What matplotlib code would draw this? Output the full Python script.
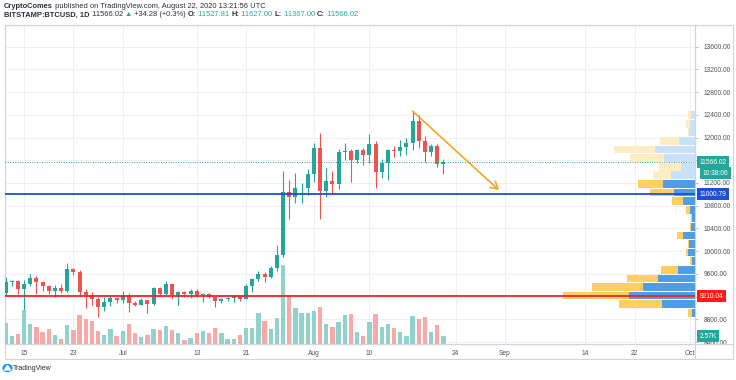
import numpy as np
import pandas as pd
import matplotlib
matplotlib.use("Agg")
import matplotlib.pyplot as plt
import matplotlib.dates as mdates
import matplotlib.transforms as mtransforms
from matplotlib.patches import Rectangle, Ellipse, Polygon
from matplotlib.lines import Line2D
from matplotlib.offsetbox import TextArea, HPacker, AnnotationBbox

# ---- data (BITSTAMP:BTCUSD, 1D, Jun 12 - Aug 22 2020) ----
dates = pd.date_range("2020-06-12", "2020-08-22", freq="D")

opens = [9265, 9460, 9475, 9330, 9430, 9525, 9465, 9385, 9300, 9355,
         9290, 9685, 9625, 9285, 9235, 9160, 9010, 9110, 9180, 9135,
         9235, 9095, 9060, 9135, 9070, 9345, 9250, 9430, 9235, 9285,
         9240, 9300, 9235, 9250, 9195, 9130, 9155, 9170, 9210, 9160,
         9385, 9515, 9605, 9550, 9700, 9930, 11045, 10945, 11105, 11120,
         11350, 11810, 11060, 11230, 11180, 11750, 11765, 11600, 11780, 11690,
         11885, 11395, 11560, 11785, 11770, 11840, 11905, 12295, 11945, 11750,
         11860, 11527.81]
highs = [9540, 9490, 9490, 9500, 9590, 9560, 9480, 9400, 9400, 9420,
         9790, 9700, 9660, 9330, 9280, 9190, 9190, 9230, 9200, 9290,
         9260, 9120, 9180, 9145, 9360, 9370, 9470, 9440, 9300, 9300,
         9330, 9340, 9270, 9270, 9210, 9180, 9200, 9230, 9220, 9420,
         9530, 9650, 9640, 9730, 10100, 11410, 11250, 11370, 11200, 11450,
         11900, 12085, 11470, 11420, 11800, 11900, 11800, 11800, 11810, 12070,
         11935, 11620, 11800, 11850, 11960, 11990, 12470, 12400, 12020, 11880,
         11880, 11627.00]
lows = [9230, 9390, 9250, 8960, 9380, 9250, 9290, 9240, 9200, 9270,
        9280, 9580, 9210, 9000, 9050, 8840, 8950, 9030, 9080, 9080,
        8930, 9040, 9050, 8910, 9050, 9210, 9230, 9150, 9050, 9190,
        9180, 9200, 9100, 9170, 9010, 9090, 9130, 9100, 9130, 9150,
        9280, 9480, 9450, 9530, 9650, 9900, 10570, 10840, 10840, 10990,
        11220, 10560, 10950, 11000, 11090, 11600, 11210, 11550, 11520, 11550,
        11120, 11290, 11250, 11650, 11670, 11700, 11780, 11810, 11570, 11680,
        11490, 11367.00]
closes = [9460, 9475, 9330, 9430, 9525, 9465, 9385, 9300, 9355, 9290,
          9685, 9625, 9285, 9235, 9160, 9010, 9110, 9180, 9135, 9235,
          9095, 9060, 9135, 9070, 9345, 9250, 9430, 9235, 9285, 9240,
          9300, 9235, 9250, 9195, 9130, 9155, 9170, 9210, 9160, 9385,
          9515, 9605, 9550, 9700, 9930, 11045, 10945, 11105, 11120, 11350,
          11810, 11060, 11230, 11180, 11750, 11765, 11600, 11780, 11690, 11885,
          11395, 11560, 11785, 11770, 11840, 11905, 12295, 11945, 11750, 11860,
          11530, 11566.02]
# volume in thousands of BTC
volumes = [6.9, 2.8, 3.3, 11.4, 6.7, 5.7, 3.9, 5.1, 3.0, 1.6,
           6.4, 4.8, 9.8, 8.5, 7.8, 4.4, 3.1, 5.0, 2.8, 4.2,
           6.7, 3.6, 2.2, 3.0, 5.1, 4.7, 6.0, 4.7, 3.8, 1.4,
           2.0, 3.8, 4.4, 3.8, 5.3, 3.6, 1.6, 1.6, 3.1, 5.3,
           5.3, 10.3, 7.8, 5.0, 8.8, 26.5, 16.5, 12.0, 10.3, 10.3,
           10.9, 12.4, 6.8, 5.6, 7.4, 9.7, 10.1, 3.9, 2.8, 7.4,
           10.1, 5.7, 6.7, 5.3, 3.9, 2.6, 9.5, 8.5, 9.1, 4.1,
           6.2, 2.57]

# visible range volume profile, 24 rows from the low to the high (bottom -> top)
profile_up = [3.0, 33.0, 65.7, 51.7, 36.7, 17.3, 3.0, 6.7, 5.7, 11.7, 4.0, 3.0,
              5.0, 11.7, 20.7, 31.7, 24.0, 14.0, 30.7, 39.7, 16.3, 5.7, 5.0, 4.0]
profile_down = [3.7, 42.7, 66.7, 51.7, 31.7, 16.3, 2.0, 2.3, 1.7, 6.7, 1.0, 0.7,
                4.0, 11.7, 24.3, 25.0, 18.3, 21.7, 34.0, 41.3, 18.7, 1.0, 4.0, 3.3]
value_area_rows = 16

support_level = 9210.04
resist_level = 11000.79
last_price = 11566.02
arrow_start = ("2020-08-17", 12466)
arrow_end = ("2020-08-31", 11075)

tick_dates = ["2020-06-15", "2020-06-23", "2020-07-01", "2020-07-13", "2020-07-21",
              "2020-08-01", "2020-08-10", "2020-08-24", "2020-09-01", "2020-09-14",
              "2020-09-22", "2020-10-01"]
tick_labels = ["15", "23", "Jul", "13", "21", "Aug", "10", "24", "Sep", "14", "22", "Oct"]
price_ticks = np.arange(8400, 13601, 400)
hidden_ticks = [9200, 11600]   # covered by the price tags

UP = "#26a69a"
DOWN = "#ef5350"
TXT = "#2a2e39"
FONT = ["Liberation Sans", "DejaVu Sans"]

# ---- figure layout (pixel based) ----
W, H = 736, 380
fig = plt.figure(figsize=(W / 100, H / 100), dpi=100)


def rect(x0, y0, x1, y1):
    return [x0 / W, 1 - y1 / H, (x1 - x0) / W, (y1 - y0) / H]


r = rect(5, 25, 695, 344)
ax = fig.add_axes(r)
ax_vol = fig.add_axes(r, sharex=ax)
ax_prof = fig.add_axes(r, sharey=ax)
ax_top = fig.add_axes(r, sharex=ax, sharey=ax)
for i, a in enumerate([ax, ax_vol, ax_prof, ax_top]):
    a.set_zorder(i)
    if i:
        a.patch.set_visible(False)
        a.axis("off")

x = mdates.date2num(dates)
o = np.array(opens); h = np.array(highs); l = np.array(lows); c = np.array(closes)
up = c >= o

ax.set_xlim(x[0] - 0.1, mdates.datestr2num("2020-10-01") + 0.8)
ax.set_ylim(8365, 13982)

# grid / ticks
ax.set_xticks(mdates.datestr2num(tick_dates))
ax.set_xticklabels(tick_labels, fontsize=4.8, color="#50535e", family=FONT)
ax.set_yticks(price_ticks)
ax.set_yticklabels(["" if p in hidden_ticks else f"{p:.2f}" for p in price_ticks],
                   fontsize=4.8, color="#50535e", family=FONT)
ax.yaxis.tick_right()
ax.tick_params(axis="x", length=0, pad=4)
ax.tick_params(axis="y", length=2.5, width=0.6, color="#b2b5be", pad=4)
ax.grid(True, color="#eef0f4", lw=0.7)
for s in ax.spines.values():
    s.set_color("#d1d4dc")
    s.set_linewidth(0.8)

# volume
vol_colors = np.where(up, "#92d2cc", "#f7a9a7")
ax_vol.bar(x, volumes, width=0.7, color=vol_colors)
ax_vol.set_ylim(0, 106.7)

# volume profile
edges = np.linspace(l.min(), h.max(), 25)
row_h = edges[1] - edges[0]
centers = edges[:-1] + row_h / 2
pu = np.array(profile_up); pd_ = np.array(profile_down)
in_va = np.arange(24) < value_area_rows
ax_prof.barh(centers, pu, height=row_h * 0.9, left=0,
             color=np.where(in_va, "#4f9de5", "#c8e1f7"))
ax_prof.barh(centers, pd_, height=row_h * 0.9, left=pu,
             color=np.where(in_va, "#fccf5f", "#fdecc4"))
ax_prof.set_xlim(690, 0)

# candles
ax_top.vlines(x, l, h, colors=np.where(up, UP, DOWN), lw=0.8)
body = np.maximum(np.abs(c - o), 8)
ax_top.bar(x, body, bottom=np.minimum(o, c), width=0.65, color=np.where(up, UP, DOWN))

# levels
ax_top.axhline(resist_level, color="#1e50d2", lw=1.3)
ax_top.axhline(support_level, color="#e8262a", lw=1.3)
ax_top.axhline(last_price, color=UP, lw=0.7, ls=(0, (1, 1.5)))

# arrow
ax_top.annotate("", xy=(mdates.datestr2num(arrow_end[0]), arrow_end[1]),
                xytext=(mdates.datestr2num(arrow_start[0]), arrow_start[1]),
                arrowprops=dict(arrowstyle="->,head_length=0.5,head_width=0.3",
                                color="#f5a623", lw=1.2, shrinkA=0, shrinkB=0))

# price axis tags
blend = mtransforms.blended_transform_factory(ax_top.transAxes, ax_top.transData)


def tag(y, text, color, dx=3.3, dy=0, trans=blend):
    ax_top.annotate(text, xy=(1.0, y), xycoords=trans, xytext=(dx, dy),
                    textcoords="offset points", fontsize=4.8, color="white",
                    family=FONT, va="center", ha="left", annotation_clip=False,
                    bbox=dict(boxstyle="square,pad=0.35", fc=color, ec="none"))


tag(last_price, f"{last_price:.2f}", UP)
tag(last_price, "10:38:06", UP, dx=5.5, dy=-8)
tag(resist_level, f"{resist_level:.2f}", "#1e50d2")
tag(support_level, f"{support_level:.2f}", "#ff1a1a")
tag(volumes[-1], f"{volumes[-1]:.2f}K",
    UP, trans=mtransforms.blended_transform_factory(ax_vol.transAxes, ax_vol.transData))

# outer frame
fig.add_artist(Rectangle((5 / W, 1 - 359 / H), 728 / W, 334 / H, transform=fig.transFigure,
                         fill=False, ec="#d1d4dc", lw=0.8))
fig.add_artist(Line2D([695 / W, 695 / W], [1 - 359 / H, 1 - 25 / H], color="#d1d4dc", lw=0.8))
fig.add_artist(Line2D([5 / W, 733 / W], [1 - 344 / H, 1 - 344 / H], color="#d1d4dc", lw=0.8))


# header
def header(parts, y_px):
    boxes = [TextArea(t, textprops=dict(color=col, fontweight=wt, fontsize=5.4, family=FONT))
             for t, col, wt in parts]
    pack = HPacker(children=boxes, align="baseline", pad=0, sep=0)
    fig.add_artist(AnnotationBbox(pack, (4 / W, 1 - y_px / H), xycoords="figure fraction",
                                  box_alignment=(0, 0.5), frameon=False, pad=0))


header([("CryptoComes", TXT, "bold"),
        (" published on TradingView.com, August 22, 2020 13:21:56 UTC", TXT, "normal")], 6)
header([("BITSTAMP:BTCUSD, 1D", TXT, "bold"),
        (" 11566.02 ", TXT, "normal"), ("\u25b2", UP, "normal"),
        (" +34.28 (+0.3%) ", TXT, "normal"),
        ("O:", TXT, "bold"), (" 11527.81 ", UP, "normal"),
        ("H:", TXT, "bold"), (" 11627.00 ", UP, "normal"),
        ("L:", TXT, "bold"), (" 11367.00 ", UP, "normal"),
        ("C:", TXT, "bold"), (" 11566.02", UP, "normal")], 15)

# TradingView footer
fig.add_artist(Ellipse((7.5 / W, 1 - 368 / H), 9 / W, 7 / H, transform=fig.transFigure,
                       color="#2196f3"))
fig.add_artist(Polygon([[4.5 / W, 1 - 370 / H], [7.5 / W, 1 - 365.5 / H], [10.5 / W, 1 - 370 / H]],
                       closed=True, transform=fig.transFigure, color="white"))
fig.text(13 / W, 1 - 368 / H, "TradingView", fontsize=5, color=TXT, family=FONT, va="center")

fig.savefig("out.png", dpi=100)
